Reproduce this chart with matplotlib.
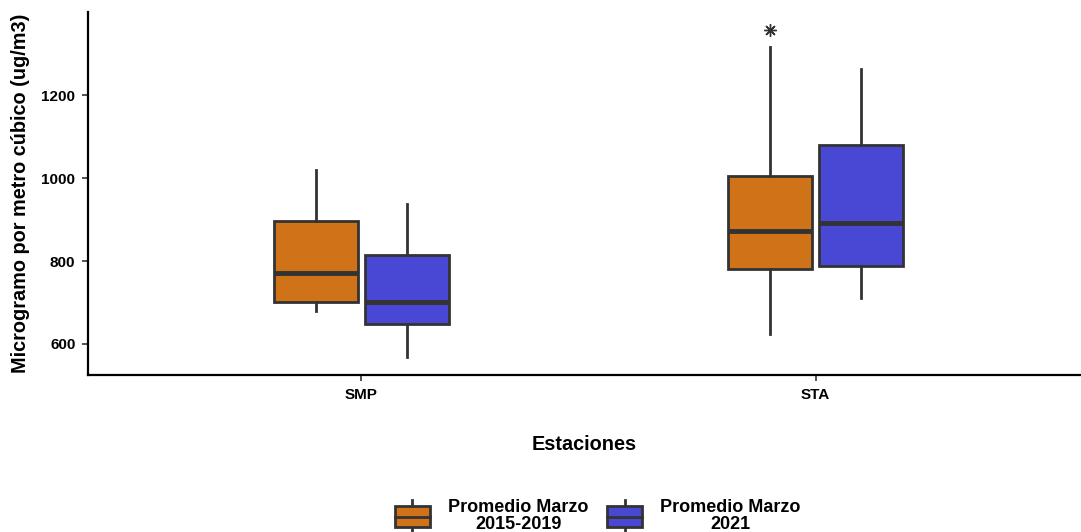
import matplotlib
matplotlib.use("Agg")
import matplotlib.pyplot as plt
from matplotlib.legend_handler import HandlerBase
from matplotlib.patches import Rectangle
from matplotlib.lines import Line2D

plt.rcParams['font.family'] = ['Liberation Sans', 'DejaVu Sans']

# data
stations = ["SMP", "STA"]
groups = ["Promedio Marzo\n2015-2019", "Promedio Marzo\n2021"]
colors = ["#D07318", "#4848D4"]
edge = "#333333"

# per group: [SMP, STA]
whislo = [[679, 624], [568, 710]]
q1 = [[701, 781], [647, 788]]
med = [[770, 872], [701, 892]]
q3 = [[897, 1005], [815, 1079]]
whishi = [[1019, 1315], [937, 1264]]
fliers = [[[], [1357]], [[], []]]

offsets = [-0.1, 0.1]
box_w = 0.185

fig = plt.figure(figsize=(10.81, 5.32), dpi=100)
ax = fig.add_axes([0.0814, 0.295, 0.9186, 0.682])

for g in range(2):
    stats = []
    for i in range(len(stations)):
        stats.append(dict(whislo=whislo[g][i], q1=q1[g][i], med=med[g][i],
                          q3=q3[g][i], whishi=whishi[g][i], fliers=fliers[g][i]))
    ax.bxp(stats, positions=[i + offsets[g] for i in range(len(stations))],
           widths=box_w, patch_artist=True, showcaps=False,
           boxprops=dict(facecolor=colors[g], edgecolor=edge, linewidth=2),
           medianprops=dict(color=edge, linewidth=3.5, solid_capstyle='butt'),
           whiskerprops=dict(color=edge, linewidth=2),
           flierprops=dict(marker=(8, 2, 0), markersize=9, markeredgecolor=edge,
                           markeredgewidth=1.0, markerfacecolor=edge))

ax.set_xlim(-0.601, 1.584)
ax.set_ylim(525, 1400)
ax.set_xticks(range(len(stations)))
ax.set_xticklabels(stations, fontsize=11, fontweight='bold')
ax.set_yticks([600, 800, 1000, 1200])
ax.set_yticklabels(["600", "800", "1000", "1200"], fontsize=11, fontweight='bold')
for s in ['top', 'right']:
    ax.spines[s].set_visible(False)
for s in ['left', 'bottom']:
    ax.spines[s].set_linewidth(1.6)
ax.tick_params(axis='both', length=4, width=1.2, color='#333333', pad=5)
ax.set_xlabel("Estaciones", fontsize=14.3, fontweight='bold', labelpad=24)
ax.set_ylabel("Microgramo por metro cúbico (ug/m3)", fontsize=14.3, fontweight='bold', labelpad=8)


class BoxKey(HandlerBase):
    def __init__(self, color):
        super().__init__()
        self.color = color

    def create_artists(self, legend, orig_handle, xdescent, ydescent, width, height, fontsize, trans):
        x0, y0 = -xdescent, -ydescent
        rect = Rectangle((x0, y0), width, height, facecolor=self.color, edgecolor=edge,
                         linewidth=2, transform=trans)
        cx = x0 + width / 2
        mline = Line2D([x0, x0 + width], [y0 + height / 2] * 2, color=edge, lw=2, transform=trans)
        wtop = Line2D([cx, cx], [y0 + height, y0 + height * 1.3], color=edge, lw=2, transform=trans)
        wbot = Line2D([cx, cx], [y0, y0 - height * 0.3], color=edge, lw=2, transform=trans)
        return [wtop, wbot, rect, mline]


handles = [Rectangle((0, 0), 1, 1) for _ in groups]
leg = fig.legend(handles, groups, loc='center', ncol=2, frameon=False,
                 bbox_to_anchor=(0.553, 0.03), prop=dict(size=13, weight='bold'),
                 handler_map={handles[0]: BoxKey(colors[0]), handles[1]: BoxKey(colors[1])},
                 handlelength=1.94, handleheight=1.4, columnspacing=1.05, handletextpad=1.0,
                 borderpad=0, borderaxespad=0)
for t in leg.get_texts():
    t.set_multialignment('center')
    t.set_linespacing(1.0)

fig.savefig("out.png", dpi=100)
